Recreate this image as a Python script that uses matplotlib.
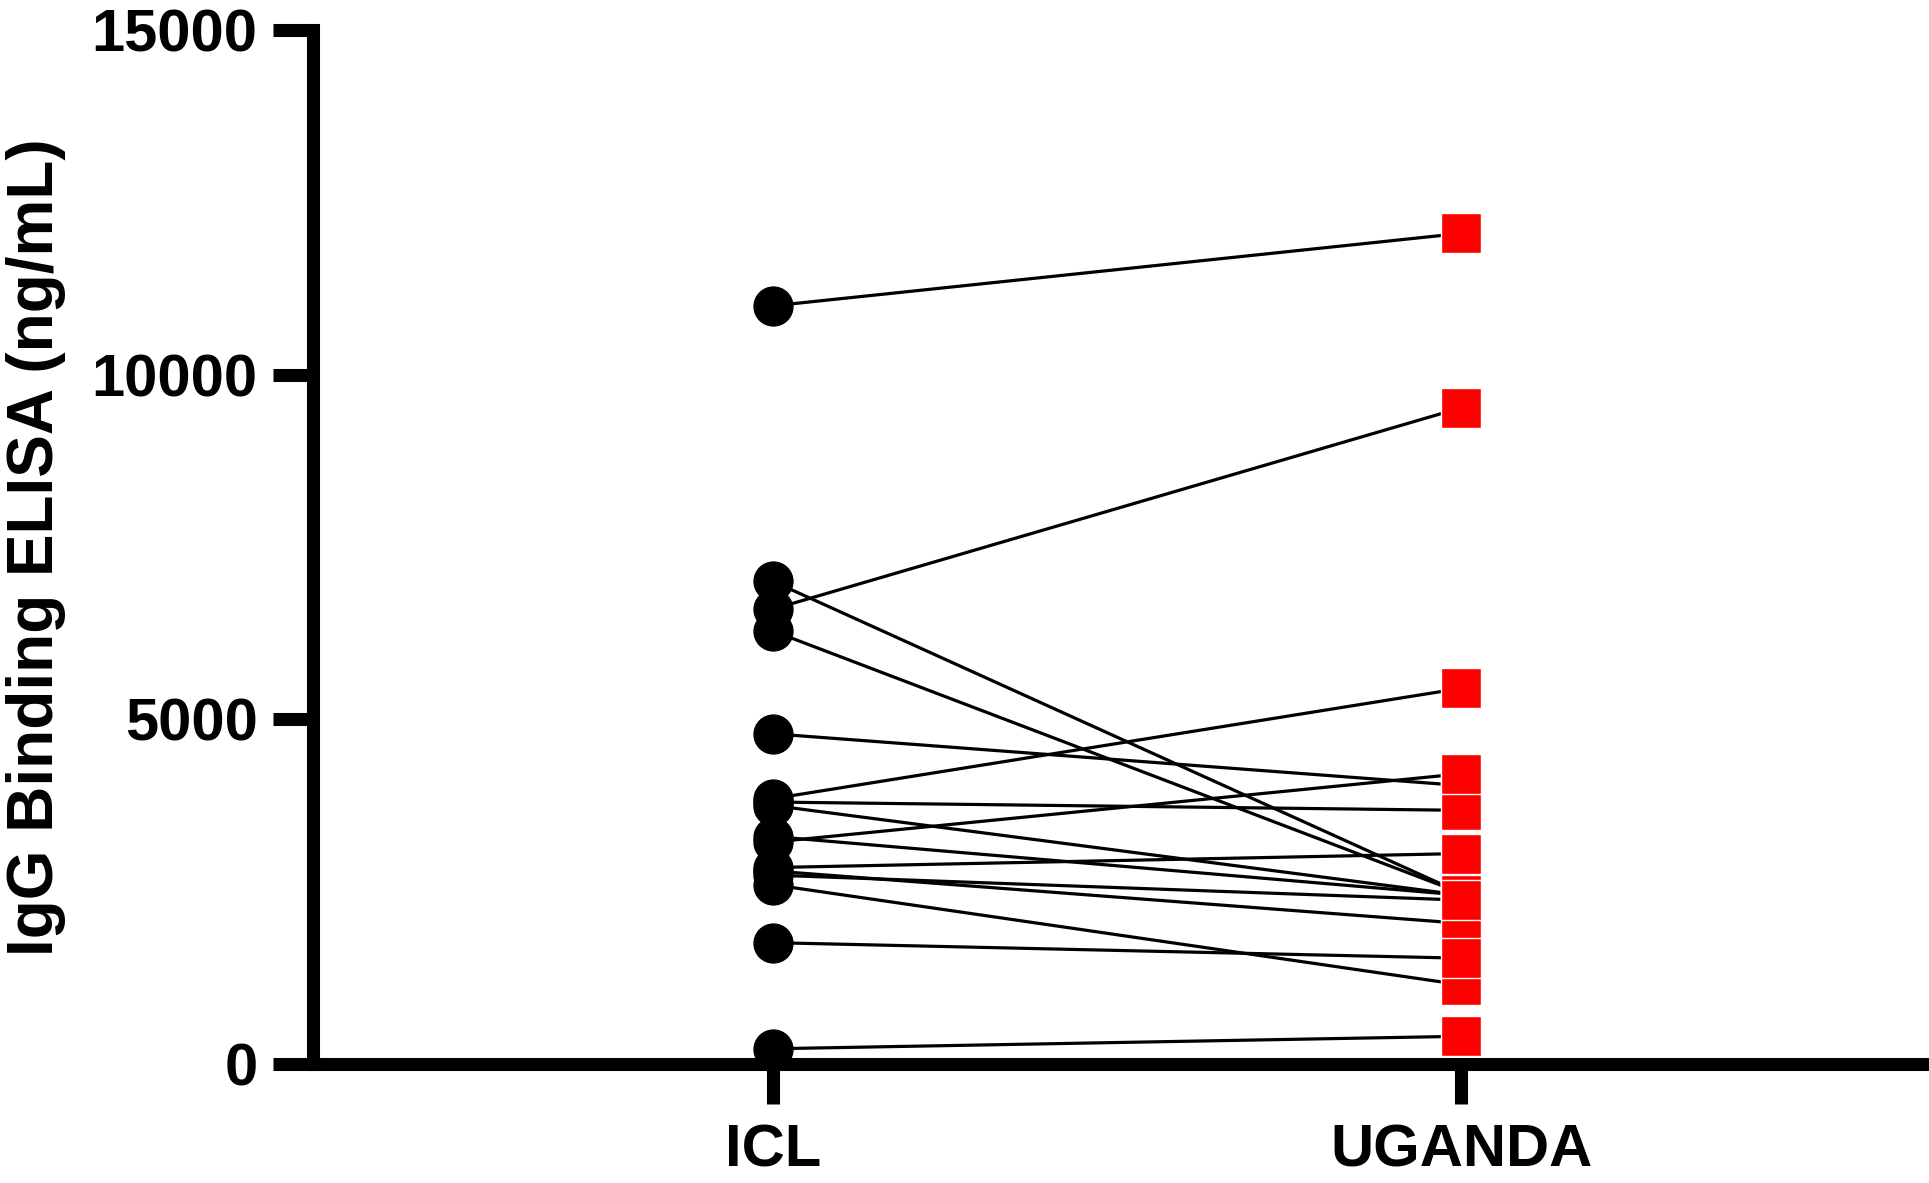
import numpy as np
import matplotlib
matplotlib.use("Agg")
import matplotlib.pyplot as plt

plt.rcParams['font.family'] = ['Liberation Sans', 'DejaVu Sans']
plt.rcParams['font.weight'] = 'bold'

# paired samples, one line per sample
groups = ['ICL', 'UGANDA']
icl = [11000, 7000, 6600, 6280, 4790, 3850, 3800, 3750, 3300, 3220,
       2850, 2800, 2740, 2600, 1760, 221]
uganda = [12050, 2480, 9520, 2480, 4040, 5450, 3680, 2450, 2450, 4210,
          3053, 2041, 2378, 1149, 1535, 402]

fig = plt.figure(figsize=(19.29, 11.83), dpi=100)
ax = fig.add_axes([0.1623, 0.1006, 0.8341, 0.874])

for a, b in zip(icl, uganda):
    ax.plot([0, 1], [a, b], color='black', lw=2.3, zorder=2)

ax.plot(np.ones(len(uganda)), uganda, ls='none', marker='s', ms=29,
        mfc='#ff0000', mec='white', mew=1.0, zorder=3)
ax.plot(np.zeros(len(icl)), icl, ls='none', marker='o', ms=28,
        mfc='black', mec='black', zorder=4, clip_on=False)

ax.set_xlim(-0.669, 1.670)
ax.set_ylim(0, 15000)
ax.set_xticks([0, 1])
ax.set_xticklabels(groups)
ax.set_yticks([0, 5000, 10000, 15000])

for s in ['top', 'right']:
    ax.spines[s].set_visible(False)
for s in ['left', 'bottom']:
    ax.spines[s].set_linewidth(9.4)
    ax.spines[s].set_capstyle('projecting')

ax.tick_params(axis='both', direction='out', length=29, width=9.4,
               labelsize=43)
ax.tick_params(axis='x', pad=14)
ax.tick_params(axis='y', pad=11)
for lab in ax.get_xticklabels() + ax.get_yticklabels():
    lab.set_fontweight('bold')

ax.set_ylabel('IgG Binding ELISA (ng/mL)', fontsize=46, fontweight='bold',
              labelpad=18)

fig.savefig('out.png', dpi=100)
